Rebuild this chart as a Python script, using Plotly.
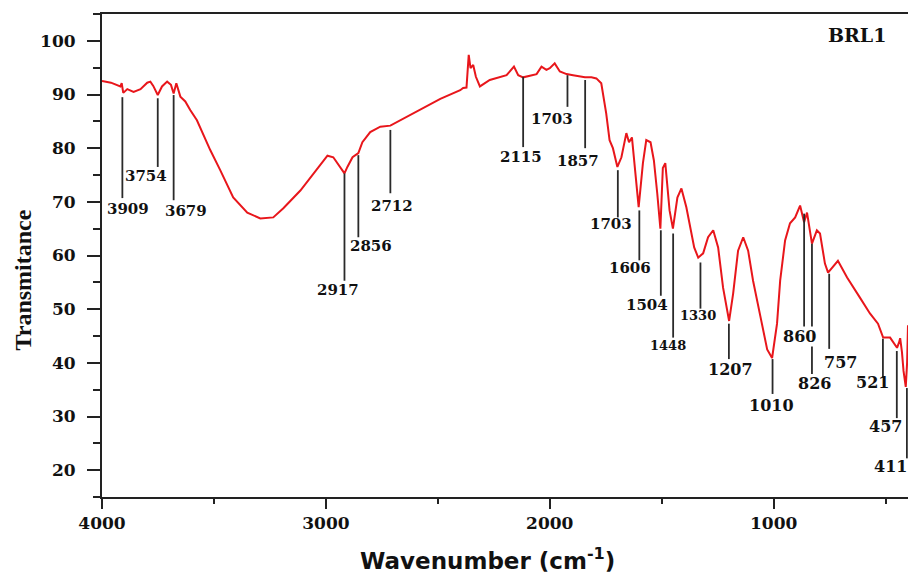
import plotly.graph_objects as go

# ---- spectrum data ----
wavenumber = [4000, 3960, 3918, 3912, 3905, 3887, 3859, 3828, 3798, 3784, 3771, 3751, 3732, 3709,
              3692, 3680, 3668, 3650, 3628, 3606, 3576, 3546, 3516, 3472, 3414, 3351, 3293, 3235,
              3190, 3114, 3056, 3024, 2993, 2967, 2935, 2917, 2904, 2881, 2855, 2837, 2802, 2757,
              2712, 2668, 2578, 2489, 2400, 2387, 2372, 2362, 2354, 2342, 2330, 2312, 2268, 2193,
              2160, 2141, 2119, 2059, 2037, 2015, 2000, 1978, 1955, 1925, 1896, 1866, 1843, 1814,
              1792, 1770, 1755, 1748, 1733, 1718, 1698, 1680, 1658, 1646, 1633, 1618, 1603, 1584,
              1569, 1550, 1535, 1520, 1506, 1495, 1484, 1465, 1450, 1430, 1412, 1390, 1355, 1337,
              1315, 1293, 1270, 1248, 1226, 1199, 1181, 1159, 1136, 1114, 1092, 1060, 1029, 1007,
              985, 971, 949, 927, 904, 882, 864, 851, 829, 807, 793, 771, 757, 713, 672, 614, 570,
              534, 511, 480, 449, 440, 435, 427, 420, 410, 404, 400]
transmittance = [92.5, 92.2, 91.5, 92.1, 90.3, 91.0, 90.5, 91.0, 92.2, 92.4, 91.6, 89.9, 91.5, 92.4,
                 91.8, 90.2, 92.1, 89.6, 88.7, 87.1, 85.2, 82.4, 79.6, 75.9, 70.8, 68.0, 66.9, 67.1,
                 68.8, 72.1, 75.3, 77.1, 78.6, 78.3, 76.5, 75.3, 76.5, 78.3, 79.1, 81.1, 83.0, 84.0,
                 84.2, 85.2, 87.1, 89.2, 90.8, 91.2, 91.3, 97.4, 94.9, 95.5, 93.3, 91.5, 92.7, 93.6,
                 95.2, 93.6, 93.2, 93.8, 95.2, 94.6, 94.9, 95.8, 94.3, 93.8, 93.6, 93.3, 93.2, 93.2,
                 93.0, 92.1, 88.7, 86.5, 81.5, 80.0, 76.5, 78.3, 82.8, 81.1, 82.0, 75.9, 69.0, 77.2,
                 81.5, 81.1, 77.7, 71.6, 65.0, 76.3, 77.2, 68.4, 65.0, 70.8, 72.5, 69.0, 61.5, 59.6,
                 60.4, 63.4, 64.7, 61.5, 54.0, 47.8, 52.9, 60.9, 63.4, 60.9, 55.3, 48.8, 42.5, 40.9,
                 47.3, 55.3, 62.8, 66.0, 67.1, 69.3, 66.2, 68.0, 62.2, 64.7, 64.1, 58.5, 56.8, 59.0,
                 55.9, 52.1, 49.2, 47.3, 44.7, 44.7, 42.8, 43.8, 44.6, 42.0, 38.5, 35.5, 40.0, 47.0]

# ---- peak labels ----
peak_labels = ["3909", "3754", "3679", "2917", "2856", "2712", "2115", "1703", "1857", "1703",
               "1606", "1504", "1448", "1330", "1207", "1010", "860", "826", "757", "521",
               "457", "411"]
peak_positions = [3909, 3751, 3680, 2917, 2855, 2712, 2119, 1921, 1842, 1696,
                  1600, 1504, 1449, 1327, 1200, 1005, 864, 829, 752, 512, 450, 405]

# ---- annotation geometry (layout): line top, line bottom, label x, label y, font size ----
peak_layout = [
    (89.5, 70.7, 3883, 68.6, 15), (89.3, 76.5, 3802, 74.8, 15), (89.9, 70.3, 3627, 68.3, 15),
    (75.3, 55.3, 2944, 53.5, 15), (78.7, 63.4, 2797, 61.7, 15), (83.4, 71.6, 2703, 69.3, 15),
    (93.3, 80.2, 2127, 78.3, 15), (93.6, 87.7, 1988, 85.4, 15), (92.7, 80.0, 1872, 77.6, 15),
    (75.9, 67.1, 1727, 65.8, 15), (68.4, 59.1, 1640, 57.6, 15), (64.7, 52.5, 1566, 50.7, 15),
    (64.1, 44.7, 1470, 43.2, 13), (58.7, 50.1, 1336, 48.8, 13), (47.3, 40.7, 1195, 38.7, 16),
    (40.7, 34.2, 1010, 32.1, 16), (67.8, 45.4, 885, 44.9, 16), (62.2, 37.9, 816, 36.1, 16),
    (56.6, 42.6, 702, 40.0, 16), (44.5, 37.2, 560, 36.3, 16), (42.2, 29.7, 502, 28.2, 16),
    (35.3, 22.2, 478, 20.7, 16),
]

fig = go.Figure()

fig.add_trace(go.Scatter(x=wavenumber, y=transmittance, mode="lines",
                         line=dict(color="#e8161b", width=2), hoverinfo="skip"))

lx, ly = [], []
for px, (top, bot, _, _, _) in zip(peak_positions, peak_layout):
    lx += [px, px, None]
    ly += [top, bot, None]
fig.add_trace(go.Scatter(x=lx, y=ly, mode="lines", line=dict(color="#2a2a2a", width=1.8),
                         hoverinfo="skip"))

for lab, (top, bot, tx, ty, fs) in zip(peak_labels, peak_layout):
    extra = dict(bgcolor="white") if lab == "860" else {}
    fig.add_annotation(x=tx, y=ty, xref="x", yref="y", text=lab, showarrow=False,
                       font=dict(family="DejaVu Serif", size=fs, color="#111", weight="bold"),
                       borderpad=0, xanchor="center", yanchor="middle", **extra)

fig.add_annotation(x=627, y=101.1, xref="x", yref="y", text="BRL1", showarrow=False,
                   font=dict(family="DejaVu Serif", size=19, color="#111", weight="bold"))

fig.add_annotation(x=-0.0976, y=0.449, xref="paper", yref="paper", text="Transmitance",
                   textangle=-90, showarrow=False, xanchor="center", yanchor="middle",
                   font=dict(family="Liberation Serif", size=24, color="#111", weight="bold"))

fig.add_annotation(x=0.478, y=-0.128, xref="paper", yref="paper",
                   text="Wavenumber (cm<sup>-1</sup>)", showarrow=False, yanchor="middle",
                   font=dict(family="DejaVu Sans", size=23, color="#111", weight="bold"))

axis_common = dict(showgrid=False, zeroline=False, showline=True, linecolor="#222", linewidth=2,
                   ticks="outside", tickcolor="#222", tickwidth=2,
                   tickfont=dict(family="DejaVu Serif", size=17, color="#111", weight="bold"))

fig.update_xaxes(range=[4000, 400], tick0=0, dtick=1000, ticklen=10, mirror=True,
                 minor=dict(dtick=500, ticklen=5, ticks="outside", tickcolor="#222", tickwidth=2),
                 **axis_common)
fig.update_yaxes(range=[15, 105], tick0=0, dtick=10, ticklen=13, ticklabelstandoff=8,
                 minor=dict(dtick=5, ticklen=7, ticks="outside", tickcolor="#222", tickwidth=2),
                 **axis_common)

fig.update_layout(width=908, height=576, margin=dict(l=102, r=0, t=14, b=79),
                  plot_bgcolor="white", paper_bgcolor="white", showlegend=False,
                  hovermode=False)

fig.write_html("out.html")
